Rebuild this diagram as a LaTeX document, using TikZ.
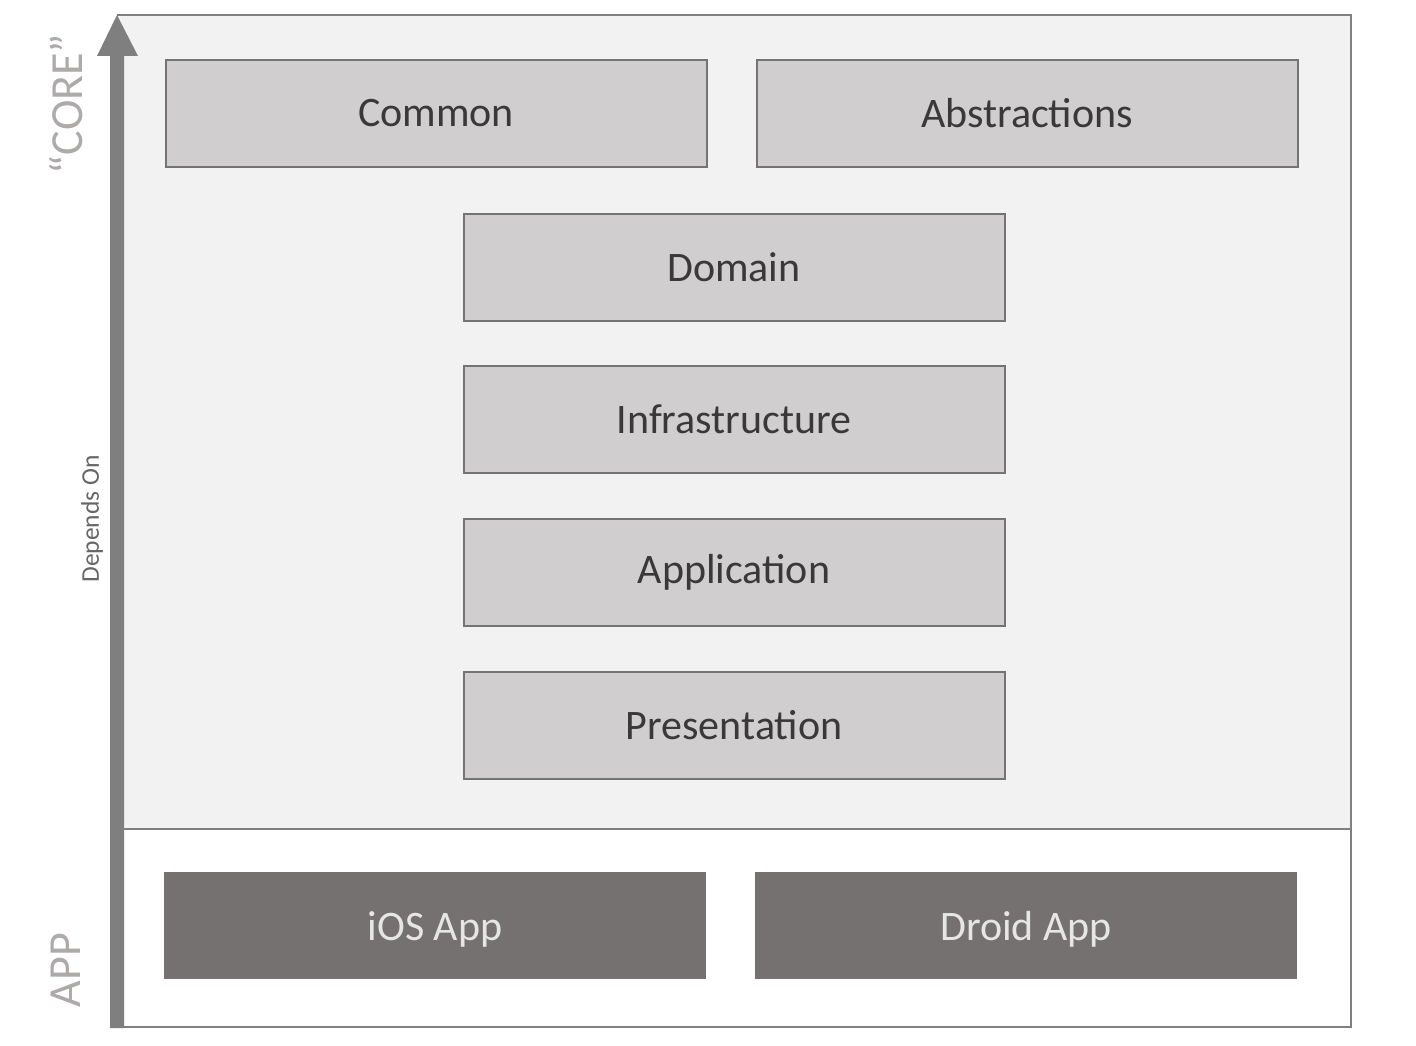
\documentclass[tikz,border=0pt]{standalone}
\usepackage{fontspec}
\setmainfont{Carlito}
\definecolor{outerfill}{HTML}{F2F2F2}
\definecolor{outerline}{HTML}{808080}
\definecolor{boxfill}{HTML}{D0CECE}
\definecolor{boxline}{HTML}{747474}
\definecolor{darkfill}{HTML}{767171}
\definecolor{darktext}{HTML}{E7E6E6}
\definecolor{boxtext}{HTML}{3A3838}
\definecolor{labeltext}{HTML}{AEAAAA}
\definecolor{arrowcol}{HTML}{7F7F7F}
\definecolor{deptext}{HTML}{666666}
\begin{document}
\begin{tikzpicture}[x=1pt,y=-1pt,
  lightbox/.style={draw=boxline, line width=2pt, fill=boxfill, minimum width=541pt, minimum height=107pt, inner sep=0pt, text=boxtext, font=\fontsize{42}{48}\selectfont},
  darkbox/.style={fill=darkfill, minimum width=542pt, minimum height=107pt, inner sep=0pt, text height=37pt, text depth=8pt, text=darktext, font=\fontsize{42}{48}\selectfont},
  sidelabel/.style={rotate=90, text=labeltext, inner sep=0pt, font=\fontsize{46}{52}\selectfont}]
\useasboundingbox (0,0) rectangle (1416,1046);
\fill[white] (0,0) rectangle (1416,1046);
% regions
\path[fill=outerfill] (117,15) rectangle (1351,829);
\draw[outerline, line width=2pt] (117,15) -- (1351,15) -- (1351,1027) -- (110,1027);
\draw[outerline, line width=2pt] (123,829) -- (1351,829);
\coordinate (tip) at (117,15);
% arrow
\fill[arrowcol] (110,1028) -- (110,56) -- (97,56) -- (tip) -- (138,56) -- (124,56) -- (124,1028) -- cycle;
% boxes
\node[lightbox] (common) at (436,113.5) {Common};
\node[lightbox] (abstr) at (1027,113.5) {Abstractions};
\node[lightbox] (domain) at (734,267) {Domain};
\node[lightbox] (infra) at (734,419) {Infrastructure};
\node[lightbox] (appl) at (734,572) {Application};
\node[lightbox] (pres) at (734,725) {Presentation};
\node[darkbox] (ios) at (435,925.5) {iOS App};
\node[darkbox] (droid) at (1026,925.5) {Droid App};
% labels
\node[sidelabel] (core) at (66,104) {“CORE”};
\node[sidelabel] (applbl) at (66,970) {APP};
\node[rotate=90, text=deptext, inner sep=0pt, font=\fontsize{25.5}{30}\selectfont] (dep) at (92,519) {Depends On};
\end{tikzpicture}
\end{document}
